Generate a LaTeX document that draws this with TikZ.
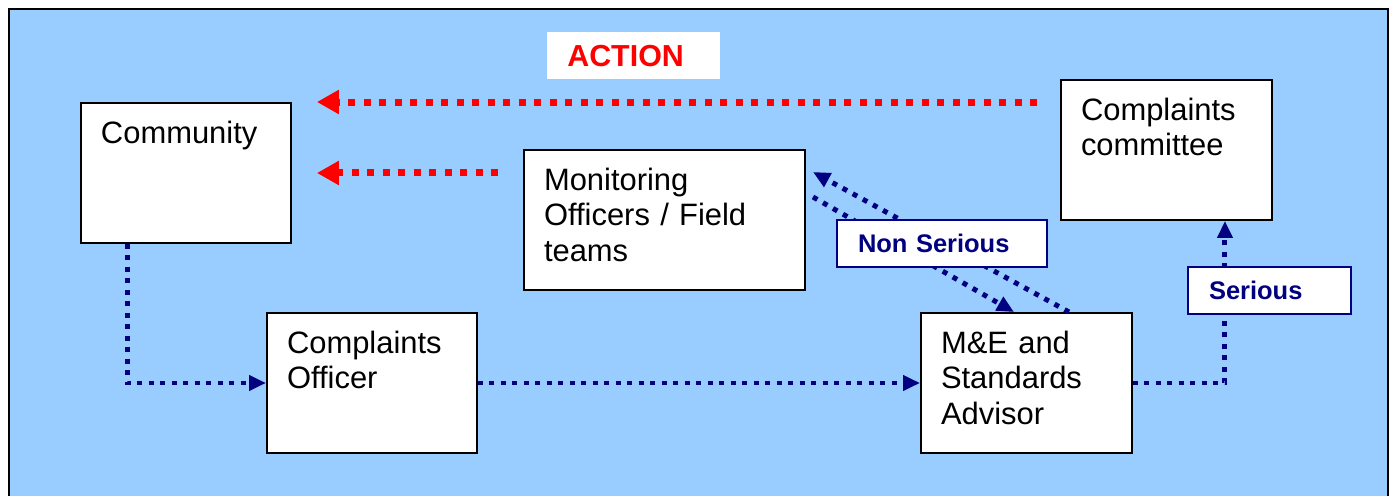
\documentclass[tikz,border=0pt]{standalone}
\usepackage{fontspec}
\setmainfont{Liberation Sans}
\usetikzlibrary{arrows.meta, positioning}

\definecolor{skyblue}{HTML}{99CCFF}
\definecolor{navyblue}{HTML}{000080}

\tikzset{
  box/.style={draw, fill=white, line width=0.04cm, anchor=north west,
    inner xsep=0.4cm, inner ysep=0pt, text height=0.8cm, text depth=2cm,
    align=left, font=\fontsize{17.6}{20.4}\selectfont},
  tag/.style={draw=navyblue, fill=white, line width=0.04cm, anchor=north west,
    minimum height=0.94cm, inner xsep=0.42cm, inner ysep=0pt, align=left,
    text=navyblue, font=\bfseries\fontsize{14.5}{17}\selectfont},
  action/.style={draw=red, line width=0.14cm, dash pattern=on 0.14cm off 0.17cm,
    -{Triangle[length=0.44cm, width=0.46cm]}},
  flow/.style={draw=navyblue, line width=0.1cm, dash pattern=on 0.1cm off 0.13cm,
    -{Triangle[length=0.34cm, width=0.3cm]}}
}

\begin{document}
\begin{tikzpicture}[x=0.02cm, y=-0.02cm]

  % frame
  \useasboundingbox (0,0) rectangle (1391,495);
  \clip (0,0) rectangle (1391,495);
  \draw[fill=skyblue, line width=0.04cm] (9,9) rectangle (1388,520);

  % boxes
  \node[box, text width=3.4cm]  (com) at (80,102)   {Community};
  \node[box, text width=4.82cm] (mon) at (523,149)  {Monitoring\\Officers / Field\\teams};
  \node[box, text width=3.42cm] (cc)  at (1060,79)  {Complaints\\committee};
  \node[box, text width=3.4cm]  (co)  at (266,312)  {Complaints\\Officer};
  \node[box, text width=3.42cm] (me)  at (920,312)  {M\&E and\\Standards\\Advisor};

  % action arrows
  \draw[action, shorten <=0.46cm, shorten >=0.5cm] (cc.west |- com.north) -- (com.north east);
  \draw[action, shorten <=0.5cm, shorten >=0.5cm] (mon.west |- com.east) -- (com.east);

  % complaint flow
  \draw[flow] (com.south west) ++(47,0) |- (co.west);
  \draw[flow] (co.east) -- (me.west);
  \draw[flow] (me.east) -| ([xshift=-0.96cm]cc.south east);

  % non serious cases
  \coordinate (nsin)  at (813,172);
  \coordinate (nsout) at (813,197);
  \draw[flow] ([xshift=0.85cm]me.north) -- (nsin);
  \draw[flow] (nsout) -- ([xshift=-0.25cm]me.north);

  % labels
  \node[fill=white, anchor=north west, minimum height=0.94cm, inner xsep=0.4cm,
    text width=2.66cm, align=left, text=red,
    font=\bfseries\fontsize{17.3}{20}\selectfont] (act) at (547,32) {ACTION};
  \node[tag, text width=3.36cm] (nonser) at (836,219)  {Non Serious};
  \node[tag, text width=2.42cm] (ser)    at (1187,266) {Serious};

\end{tikzpicture}
\end{document}
